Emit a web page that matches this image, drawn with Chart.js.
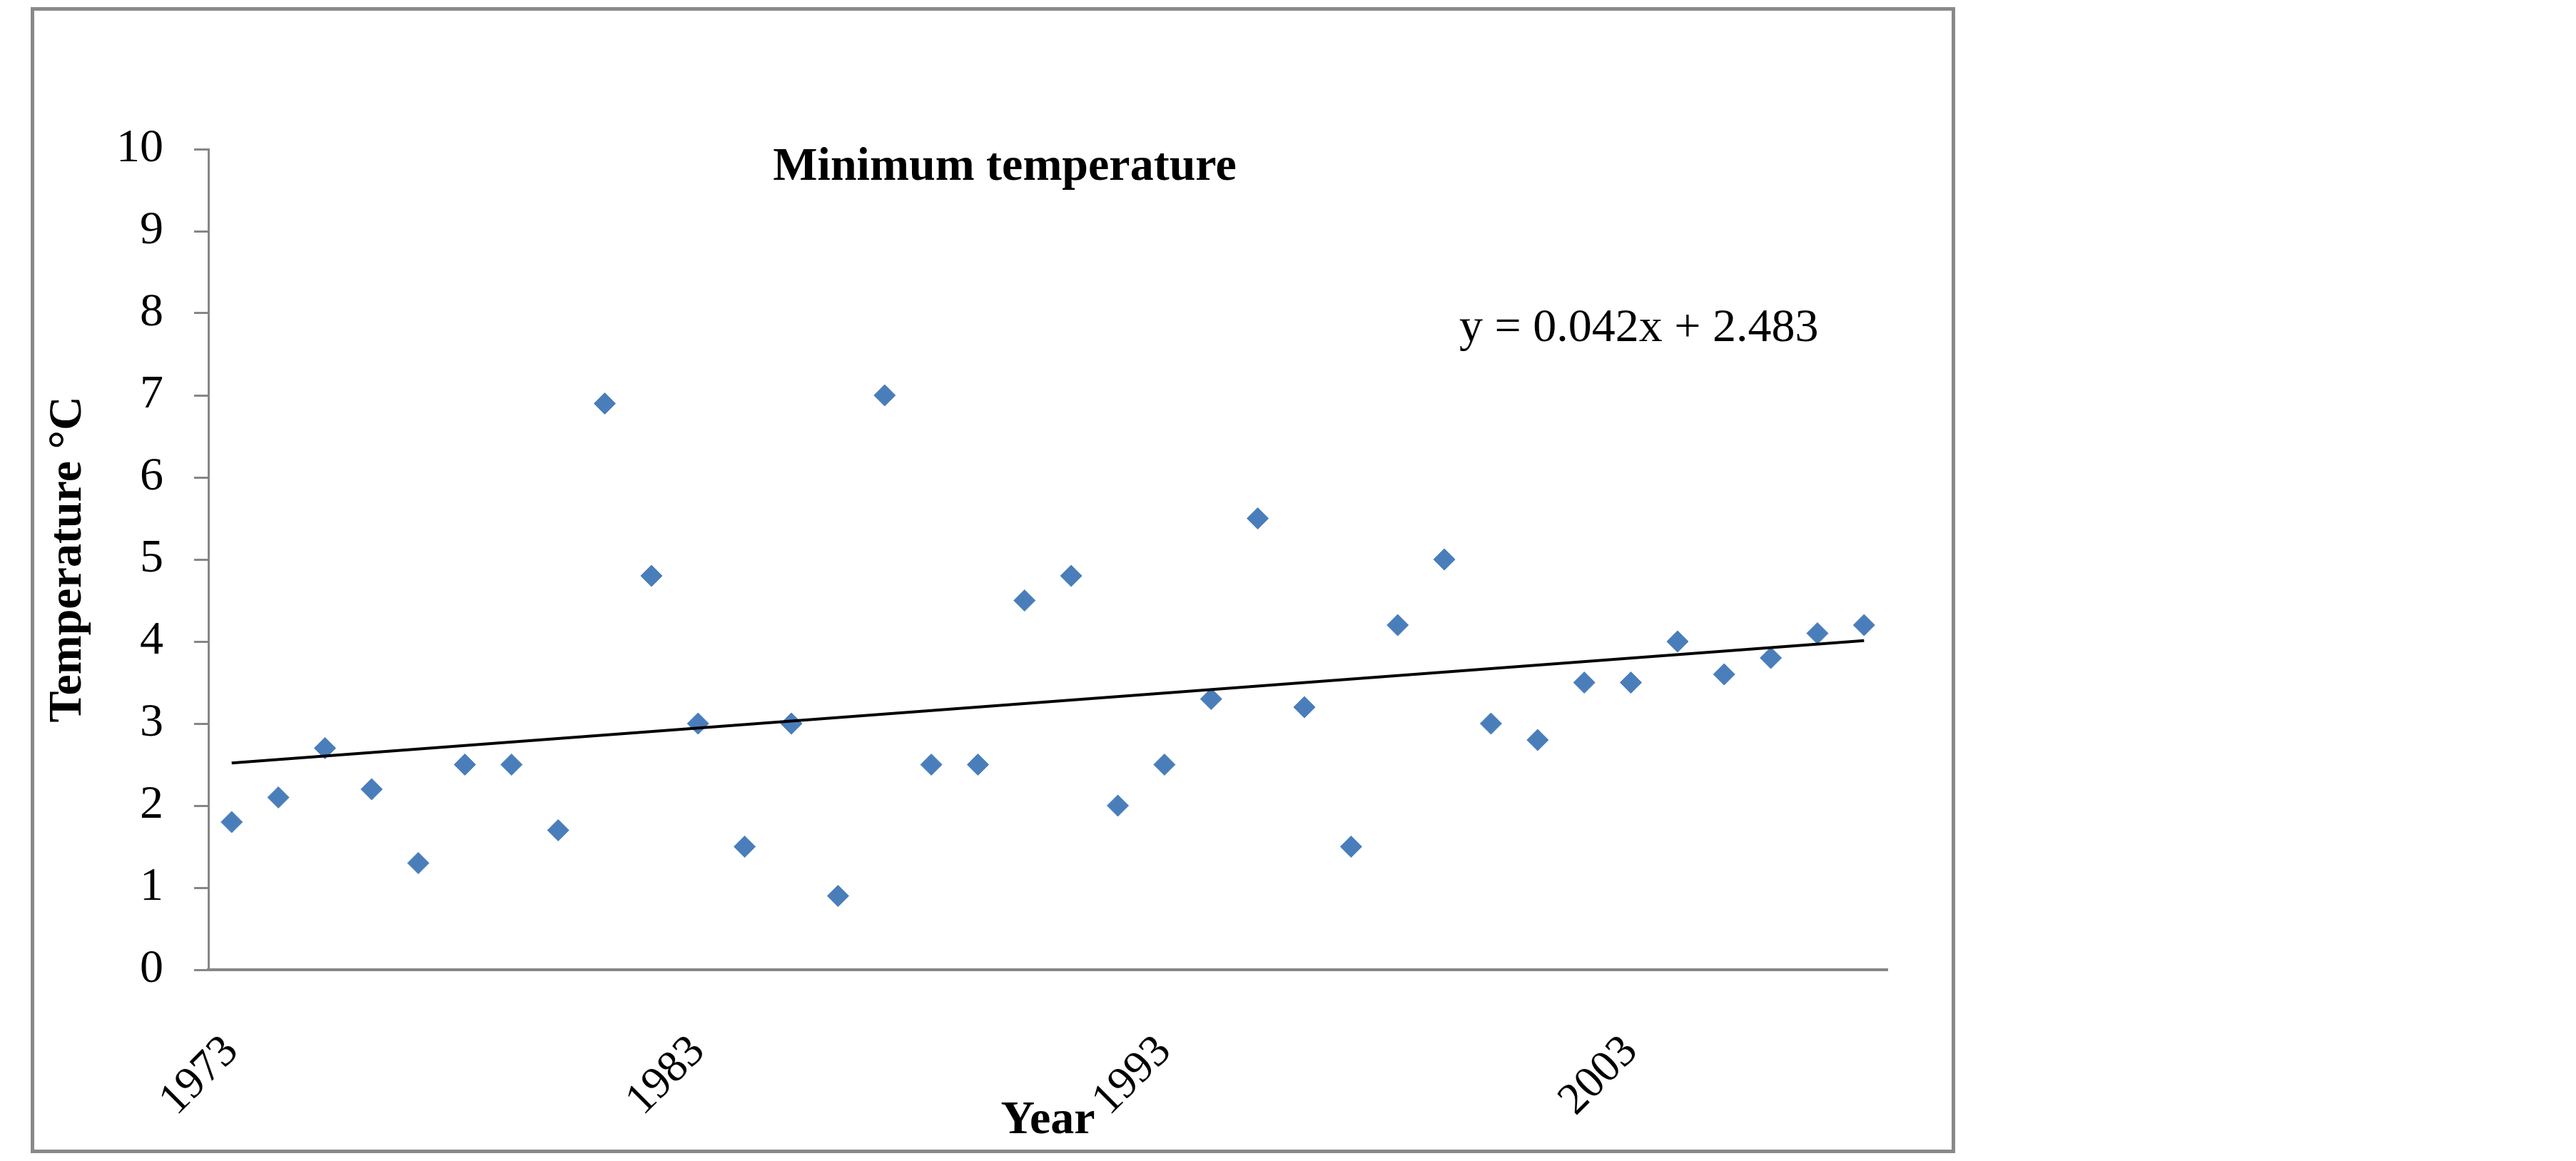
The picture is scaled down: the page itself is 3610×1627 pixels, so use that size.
<!DOCTYPE html>
<html>
<head>
<meta charset="utf-8">
<script src="https://cdn.jsdelivr.net/npm/chart.js@4/dist/chart.umd.min.js"></script>
<style>
  html, body { margin: 0; padding: 0; background: #ffffff; }
  canvas { display: block; }
</style>
</head>
<body>
<canvas id="c" width="3610" height="1627" style="width:3610px;height:1627px"></canvas>
<script>
// ---- data ----
const years = [1973, 1974, 1975, 1976, 1977, 1978, 1979, 1980, 1981, 1982,
               1983, 1984, 1985, 1986, 1987, 1988, 1989, 1990, 1991, 1992,
               1993, 1994, 1995, 1996, 1997, 1998, 1999, 2000, 2001, 2002,
               2003, 2004, 2005, 2006, 2007, 2008];
const minTemp = [1.8, 2.1, 2.7, 2.2, 1.3, 2.5, 2.5, 1.7, 6.9, 4.8,
                 3.0, 1.5, 3.0, 0.9, 7.0, 2.5, 2.5, 4.5, 4.8, 2.0,
                 2.5, 3.3, 5.5, 3.2, 1.5, 4.2, 5.0, 3.0, 2.8, 3.5,
                 3.5, 4.0, 3.6, 3.8, 4.1, 4.2];
const trendYears = [1973, 2008];
const trendValues = [2.52, 4.01];
const xTickYears = [1973, 1983, 1993, 2003];
const yTickValues = [0, 1, 2, 3, 4, 5, 6, 7, 8, 9, 10];

const chartTitle = 'Minimum temperature';
const equationText = 'y = 0.042x + 2.483';
const yAxisTitle = 'Temperature \u00B0C';
const xAxisTitle = 'Year';

// ---- styles ----
const SERIF = '"Liberation Serif", "Times New Roman", Times, serif';
const AXIS_GRAY = '#868686';
const POINT_BLUE = '#4A7EBB';

const decorPlugin = {
  id: 'decor',
  beforeDraw(chart) {
    const ctx = chart.ctx;
    ctx.save();
    ctx.fillStyle = '#ffffff';
    ctx.fillRect(0, 0, chart.width, chart.height);
    ctx.strokeStyle = '#898989';
    ctx.lineWidth = 5;
    ctx.strokeRect(45.5, 12.5, 2692, 1601);
    ctx.restore();
  },
  afterDraw(chart) {
    const ctx = chart.ctx;
    ctx.save();
    ctx.fillStyle = '#000000';
    ctx.textBaseline = 'alphabetic';
    ctx.font = 'bold 66px ' + SERIF;
    ctx.textAlign = 'center';
    ctx.fillText(chartTitle, 1408, 252);
    ctx.font = 'normal 66px ' + SERIF;
    ctx.textAlign = 'left';
    ctx.fillText(equationText, 2045, 478);
    ctx.restore();
  }
};

new Chart(document.getElementById('c'), {
  type: 'scatter',
  data: {
    datasets: [
      {
        label: 'Linear trend',
        type: 'line',
        data: trendYears.map((x, i) => ({ x: x, y: trendValues[i] })),
        borderColor: '#000000',
        borderWidth: 4,
        pointRadius: 0,
        fill: false,
        tension: 0,
        order: 0
      },
      {
        label: 'Minimum temperature',
        data: years.map((x, i) => ({ x: x, y: minTemp[i] })),
        showLine: false,
        pointStyle: 'rectRot',
        pointRadius: 15,
        pointHoverRadius: 15,
        backgroundColor: POINT_BLUE,
        borderColor: POINT_BLUE,
        borderWidth: 1,
        order: 1
      }
    ]
  },
  options: {
    responsive: false,
    animation: false,
    devicePixelRatio: 1,
    layout: { padding: { left: 0, top: 209, right: 965, bottom: 0 } },
    plugins: {
      legend: { display: false },
      tooltip: { enabled: false },
      title: { display: false }
    },
    scales: {
      x: {
        type: 'linear',
        min: 1972.5,
        max: 2008.5,
        afterBuildTicks: (scale) => { scale.ticks = xTickYears.map(v => ({ value: v })); },
        afterFit: (scale) => { scale.height = 268; },
        grid: { display: false },
        border: { display: true, color: AXIS_GRAY, width: 4 },
        ticks: {
          autoSkip: false,
          minRotation: 45,
          maxRotation: 45,
          padding: 70,
          color: '#000000',
          font: { family: SERIF, size: 63 },
          callback: (v) => String(v)
        },
        title: {
          display: true,
          text: xAxisTitle,
          color: '#000000',
          font: { family: SERIF, size: 66, weight: 'bold' },
          padding: { top: 0, bottom: 16 }
        }
      },
      y: {
        type: 'linear',
        min: 0,
        max: 10,
        afterBuildTicks: (scale) => { scale.ticks = yTickValues.map(v => ({ value: v })); },
        afterFit: (scale) => { scale.width = 292; },
        grid: {
          display: true,
          drawOnChartArea: false,
          drawTicks: true,
          tickLength: 20,
          tickColor: AXIS_GRAY,
          tickWidth: 3,
          color: AXIS_GRAY
        },
        border: { display: true, color: AXIS_GRAY, width: 3 },
        ticks: {
          padding: 43,
          color: '#000000',
          font: { family: SERIF, size: 66 },
          callback: (v) => String(v)
        },
        title: {
          display: true,
          text: yAxisTitle,
          color: '#000000',
          font: { family: SERIF, size: 66, weight: 'bold' },
          padding: { top: 56, bottom: 0 }
        }
      }
    }
  },
  plugins: [decorPlugin]
});
</script>
</body>
</html>
